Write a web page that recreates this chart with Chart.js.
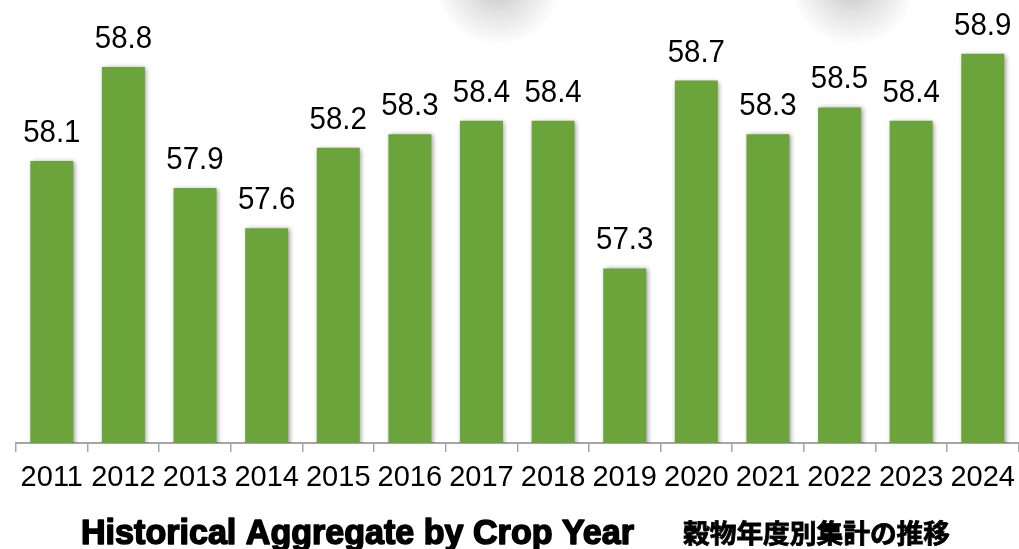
<!DOCTYPE html>
<html>
<head>
<meta charset="utf-8">
<script src="https://cdn.jsdelivr.net/npm/chart.js@4/dist/chart.umd.min.js"></script>
<style>
  html, body { margin: 0; padding: 0; background: #fff; overflow: hidden; }
  #wrap { width: 1019px; height: 549px; overflow: hidden; position: relative; }
  canvas { display: block; }
</style>
</head>
<body>
<div id="wrap">
  <canvas id="cropChart" width="1024" height="549"></canvas>
</div>
<script>
// crop years and aggregate values
const years = ['2011', '2012', '2013', '2014', '2015', '2016', '2017', '2018', '2019', '2020', '2021', '2022', '2023', '2024'];
const values = [58.1, 58.8, 57.9, 57.6, 58.2, 58.3, 58.4, 58.4, 57.3, 58.7, 58.3, 58.5, 58.4, 58.9];
const titleText = 'Historical Aggregate by Crop Year';
const subtitleText = '穀物年度別集計の推移';

const barGreen = '#6ba43a';

// soft grey blobs along the top edge
const topHaze = {
  id: 'topHaze',
  beforeDraw(chart) {
    const ctx = chart.ctx;
    [498, 853].forEach((cx) => {
      const g = ctx.createRadialGradient(cx, -18, 0, cx, -18, 64);
      g.addColorStop(0, 'rgba(0,0,0,0.26)');
      g.addColorStop(0.45, 'rgba(0,0,0,0.12)');
      g.addColorStop(1, 'rgba(0,0,0,0)');
      ctx.save();
      ctx.fillStyle = g;
      ctx.fillRect(cx - 70, 0, 140, 60);
      ctx.restore();
    });
  }
};

// light drop shadow under the bars
const barShadow = {
  id: 'barShadow',
  beforeDatasetDraw(chart) {
    const ctx = chart.ctx;
    ctx.save();
    ctx.shadowColor = 'rgba(0,0,0,0.45)';
    ctx.shadowBlur = 5;
    ctx.shadowOffsetX = 1.5;
    ctx.shadowOffsetY = 1;
  },
  afterDatasetDraw(chart) {
    chart.ctx.restore();
  }
};

// value above each bar
const valueLabels = {
  id: 'valueLabels',
  afterDatasetsDraw(chart) {
    const ctx = chart.ctx;
    const meta = chart.getDatasetMeta(0);
    ctx.save();
    ctx.font = '31px "Liberation Sans", Arial, sans-serif';
    ctx.fillStyle = '#000';
    ctx.textAlign = 'center';
    ctx.textBaseline = 'alphabetic';
    meta.data.forEach((bar, i) => {
      ctx.save();
      ctx.translate(bar.x, bar.y - 19);
      ctx.scale(0.95, 1);
      ctx.fillText(values[i].toFixed(1), 0, 0);
      ctx.restore();
    });
    ctx.restore();
  }
};

// bottom caption in two parts
const caption = {
  id: 'caption',
  afterDraw(chart) {
    const ctx = chart.ctx;
    ctx.save();
    ctx.fillStyle = '#000';
    ctx.strokeStyle = '#000';
    ctx.lineJoin = 'round';
    ctx.lineWidth = 1.6;
    ctx.textBaseline = 'alphabetic';
    ctx.textAlign = 'left';
    ctx.font = 'bold 35px "Liberation Sans", Arial, sans-serif';
    const w = ctx.measureText(titleText).width;
    ctx.translate(81, 544);
    ctx.scale(553 / w, 1);
    ctx.fillText(titleText, 0, 0);
    ctx.strokeText(titleText, 0, 0);
    ctx.restore();

    ctx.save();
    ctx.fillStyle = '#000';
    ctx.strokeStyle = '#000';
    ctx.lineWidth = 0.8;
    ctx.font = 'bold 26px "Noto Sans CJK JP", sans-serif';
    ctx.textBaseline = 'alphabetic';
    const jw = ctx.measureText(subtitleText).width;
    ctx.translate(683, 543);
    ctx.scale(267 / jw, 1);
    ctx.fillText(subtitleText, 0, 0);
    ctx.strokeText(subtitleText, 0, 0);
    ctx.restore();
  }
};

const ctx = document.getElementById('cropChart');
new Chart(ctx, {
  type: 'bar',
  data: {
    labels: years,
    datasets: [{
      data: values,
      backgroundColor: barGreen,
      borderWidth: 0,
      categoryPercentage: 1.0,
      barPercentage: 0.6
    }]
  },
  options: {
    responsive: false,
    animation: false,
    devicePixelRatio: 1,
    layout: { padding: { left: 16, right: 0, top: 0, bottom: 0 } },
    plugins: {
      legend: { display: false },
      tooltip: { enabled: false }
    },
    scales: {
      x: {
        afterFit(scale) { scale.height = 106; },
        grid: {
          offset: true,
          drawOnChartArea: false,
          drawTicks: true,
          tickLength: 9,
          color: '#a6a6a6',
          lineWidth: 1.5
        },
        border: { color: '#a6a6a6', width: 2 },
        ticks: {
          color: '#000',
          padding: 9,
          maxRotation: 0,
          autoSkip: false,
          font: { family: '"Liberation Sans", Arial, sans-serif', size: 29 }
        }
      },
      y: {
        display: false,
        min: 56,
        max: 59.3
      }
    }
  },
  plugins: [topHaze, barShadow, valueLabels, caption]
});
</script>
</body>
</html>
